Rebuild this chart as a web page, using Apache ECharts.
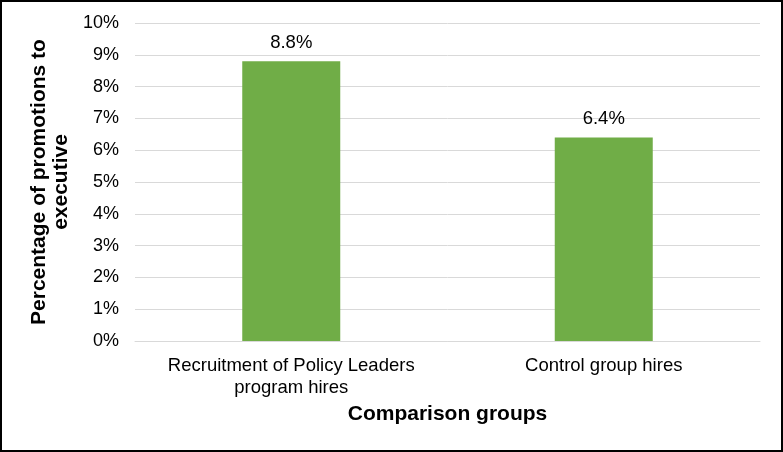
<!DOCTYPE html>
<html><head><meta charset="utf-8">
<script src="https://cdn.jsdelivr.net/npm/echarts@6/dist/echarts.min.js"></script>
<style>html,body{margin:0;padding:0;background:#fff}#c{width:783px;height:452px}</style>
</head><body><div id="c"></div>
<script>
const categories = ["Recruitment of Policy Leaders\nprogram hires", "Control group hires"];
const values = [8.8, 6.4];
const yTicks = [0,1,2,3,4,5,6,7,8,9,10];
const chart = echarts.init(document.getElementById('c'), null, {renderer:'canvas'});
const font = 'Liberation Sans, Arial, sans-serif';
chart.setOption({
  animation:false,
  graphic:[{type:'rect',shape:{x:1,y:1,width:781,height:450},style:{fill:'none',stroke:'#000',lineWidth:2},z:100}],
  grid:{left:135,right:23,top:23,bottom:111,containLabel:false},
  xAxis:{type:'category',data:categories,
    axisLine:{show:true,lineStyle:{color:'#D9D9D9',width:1}},axisTick:{show:false},
    axisLabel:{fontFamily:font,fontSize:18.5,color:'#000',margin:14,lineHeight:22,interval:0},
    name:'Comparison groups',nameLocation:'middle',nameGap:62,
    nameTextStyle:{fontFamily:font,fontSize:21,fontWeight:'bold',color:'#000'}},
  yAxis:{type:'value',min:yTicks[0],max:yTicks[yTicks.length-1],interval:1,
    axisLine:{show:false},axisTick:{show:false},
    splitLine:{lineStyle:{color:'#D9D9D9',width:1}},
    axisLabel:{fontFamily:font,fontSize:18,color:'#000',margin:16,formatter:v=>v+'%'},
    name:'Percentage of promotions to\nexecutive',nameLocation:'middle',nameGap:56,nameRotate:90,
    nameTextStyle:{fontFamily:font,fontSize:21,fontWeight:'bold',color:'#000',lineHeight:22}},
  series:[{type:'bar',data:values,barWidth:98,itemStyle:{color:'#70AD47'},
    label:{show:true,position:'top',distance:9,fontFamily:font,fontSize:18.5,color:'#000',formatter:p=>p.value.toFixed(1)+'%'}}]
});
</script></body></html>
